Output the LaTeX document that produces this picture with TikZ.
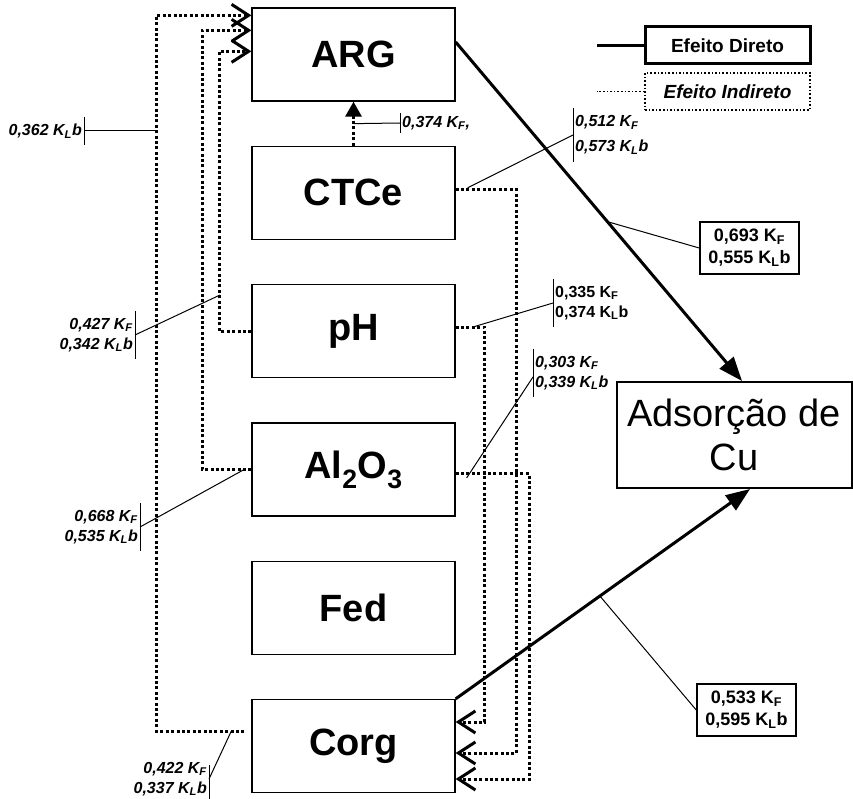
\documentclass[tikz,border=0pt]{standalone}
\usepackage{fontspec}
\setmainfont{Liberation Sans}
\usepackage{tikz}
\usetikzlibrary{calc, positioning, arrows.meta}

\tikzset{
  var/.style={draw, line width=1.3pt, minimum width=203pt, minimum height=93pt,
    inner sep=0pt, font=\fontsize{38pt}{44pt}\selectfont\bfseries},
  indireto/.style={line width=3pt, dash pattern=on 3pt off 2.4pt},
  direto/.style={line width=3pt, -{Triangle[length=24pt, width=18pt]}},
  entra/.style={-{Straight Barb[length=17pt, width=22pt]}},
  fio/.style={line width=1pt},
  coefit/.style={font=\fontsize{16pt}{20pt}\selectfont\bfseries\itshape,
    inner xsep=2pt, inner ysep=7pt, align=left},
  coefbf/.style={coefit, font=\fontsize{16pt}{20pt}\selectfont\bfseries},
  coefbox/.style={draw, line width=1.5pt, font=\fontsize{18pt}{22pt}\selectfont\bfseries,
    align=center, minimum width=99pt, minimum height=52pt, inner sep=0pt},
}

\begin{document}
\begin{tikzpicture}[x=1pt, y=-1pt, node distance=44pt]
  \useasboundingbox (0,0) rectangle (853,799);

  % Variables
  \node[var] (arg) at (353.5,54.5) {ARG};
  \node[var, below=of arg] (ctce) {CTCe};
  \node[var, below=of ctce] (ph) {pH};
  \node[var, below=of ph] (al) {Al\textsubscript{2}O\textsubscript{3}};
  \node[var, below=of al] (fed) {Fed};
  \node[var, below=of fed] (corg) {Corg};

  \node[draw, line width=2pt, minimum width=235pt, minimum height=106pt, align=center,
    font=\fontsize{38pt}{44pt}\selectfont] (ads) at (734,435) {Adsorção de\\Cu};

  % Legend
  \node[draw, line width=3pt, minimum width=165pt, minimum height=37pt,
    font=\fontsize{19pt}{22pt}\selectfont\bfseries] (ldir) at (727.5,45.5) {Efeito Direto};
  \node[draw, line width=1.6pt, dotted, minimum width=165pt, minimum height=37pt,
    font=\fontsize{19pt}{22pt}\selectfont\bfseries\itshape] (lind) at (727.5,91.5) {Efeito Indireto};
  \draw[line width=3pt] (ldir.west) -- ++(-47,0);
  \draw[line width=1.6pt, dotted] (lind.west) -- ++(-47,0);

  % Indirect effects on ARG
  \draw[indireto, entra] ([shift={(-7pt,15pt)}]corg.west) -- ++(-88,0) |- ([yshift=-8pt]arg.north west);
  \draw[indireto, entra] (al.west) -- ++(-49,0) |- ([yshift=-23pt]arg.north west);
  \draw[indireto, entra] (ph.west) -- ++(-32,0) |- ([yshift=-44pt]arg.north west);
  \draw[indireto, -{Triangle[length=15pt, width=16pt]}] (ctce.north) -- coordinate[pos=0.5] (m0) (arg.south);

  % Indirect effects on Corg
  \draw[indireto, entra] ([yshift=4pt]ph.east) -- ++(29,0) |- ([yshift=24pt]corg.east);
  \draw[indireto, entra] ([yshift=3pt]ctce.east) -- ++(61,0) |- ([yshift=-7pt]corg.east);
  \draw[indireto, entra] ([yshift=-4.5pt]al.east) -- ++(74,0) |- ([yshift=-33pt]corg.east);

  % Direct effects
  \draw[direto] ([yshift=12.5pt]arg.east) -- coordinate[pos=0.53] (m1) ([xshift=8pt]ads.north);
  \draw[direto] (corg.north east) -- coordinate[pos=0.49] (m2) ([xshift=16pt]ads.south);

  % Coefficients
  \node[coefit, anchor=east, inner ysep=2pt] (c1) at (84,131) {0,362 K\textsubscript{L}b};
  \draw[fio] ([yshift=14pt]c1.east) -- ([yshift=-14pt]c1.east);
  \draw[fio] (c1.east) -- ++(73,0);

  \node[coefit, anchor=west] (c0) at (400,123) {0,374 K\textsubscript{F},};
  \draw[fio] ([yshift=10pt]c0.west) -- ([yshift=-10pt]c0.west);
  \draw[fio] (m0) -- (c0.west);

  \node[coefit, anchor=west, font=\fontsize{16pt}{25pt}\selectfont\bfseries\itshape] (c2) at (573,135)
    {0,512 K\textsubscript{F}\\0,573 K\textsubscript{L}b};
  \draw[fio] (c2.north west) -- (c2.south west);
  \draw[fio] ([shift={(12pt,5pt)}]ctce.east) -- (c2.west);

  \node[coefbox] (c3) at (749.5,248) {0,693 K\textsubscript{F}\\0,555 K\textsubscript{L}b};
  \draw[fio] (m1) -- (c3.west);

  \node[coefbf, anchor=west] (c4) at (553,303) {0,335 K\textsubscript{F}\\0,374 K\textsubscript{L}b};
  \draw[fio] (c4.north west) -- (c4.south west);
  \draw[fio] ([shift={(17pt,4pt)}]ph.east) -- (c4.west);

  \node[coefit, anchor=west] (c5) at (533,373) {0,303 K\textsubscript{F}\\0,339 K\textsubscript{L}b};
  \draw[fio] (c5.north west) -- (c5.south west);
  \draw[fio] ([shift={(11pt,-8.5pt)}]al.east) -- ([yshift=-4pt]c5.west);

  \node[coefit, anchor=east, align=right] (c6) at (135,335) {0,427 K\textsubscript{F}\\0,342 K\textsubscript{L}b};
  \draw[fio] (c6.north east) -- (c6.south east);
  \draw[fio] (c6.east) -- ++(85,-40);

  \node[coefit, anchor=east, align=right] (c7) at (140,527) {0,668 K\textsubscript{F}\\0,535 K\textsubscript{L}b};
  \draw[fio] (c7.north east) -- (c7.south east);
  \draw[fio] (c7.east) -- ([xshift=-7pt]al.west);

  \node[coefit, anchor=east, align=right] (c8) at (209,779) {0,422 K\textsubscript{F}\\0,337 K\textsubscript{L}b};
  \draw[fio] ([yshift=-10pt]c8.north east) -- (c8.south east);
  \draw[fio] ([shift={(-20pt,15pt)}]corg.west) -- (c8.east);

  \node[coefbox] (c9) at (746.5,710) {0,533 K\textsubscript{F}\\0,595 K\textsubscript{L}b};
  \draw[fio] (m2) -- (c9.west);
\end{tikzpicture}
\end{document}
